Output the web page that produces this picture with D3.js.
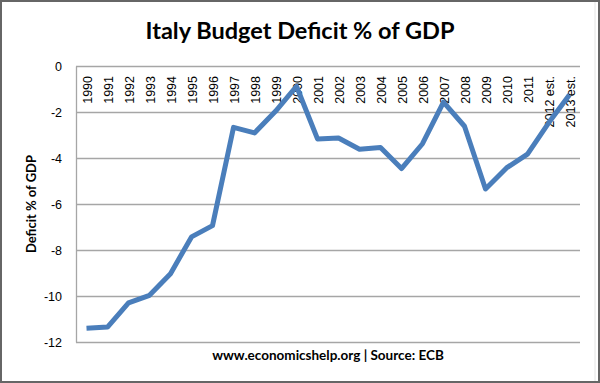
<!DOCTYPE html>
<html>
<head>
<meta charset="utf-8">
<script src="https://cdn.jsdelivr.net/npm/d3@7"></script>
<style>
  body { margin: 0; background: #fff; }
  svg { display: block; }
</style>
</head>
<body>
<div class="chart"></div>
<script>
// DATA ------------------------------
const years = ["1990", "1991", "1992", "1993", "1994", "1995", "1996", "1997", "1998", "1999",
  "2000", "2001", "2002", "2003", "2004", "2005", "2006", "2007", "2008", "2009",
  "2010", "2011", "2012 est.", "2013 est."];
const deficit = [-11.4, -11.35, -10.3, -9.97, -9.03, -7.43, -6.94, -2.67, -2.91, -1.97,
  -0.88, -3.17, -3.13, -3.62, -3.54, -4.46, -3.38, -1.57, -2.62, -5.35,
  -4.43, -3.83, -2.48, -1.25];
const yTicks = [0, -2, -4, -6, -8, -10, -12];

// CHART INIT ------------------------------
const W = 600, H = 383;
const margin = ({top: 66, right: 20, bottom: 41, left: 76});
const width = W - margin.left - margin.right;
const height = H - margin.top - margin.bottom;

const root = d3.select(".chart")
    .append("svg")
    .attr("width", W)
    .attr("height", H);

// image frame
root.append("rect")
    .attr("x", 1).attr("y", 1)
    .attr("width", W - 2).attr("height", H - 2)
    .attr("fill", "#fff")
    .attr("stroke", "#666")
    .attr("stroke-width", 2);
root.append("line")
    .attr("x1", 595).attr("x2", 595).attr("y1", 2).attr("y2", H - 2)
    .attr("stroke", "#e4e4e4");

const svg = root.append("g")
    .attr("transform", "translate(" + margin.left + "," + margin.top + ")");

let xScale = d3.scaleBand()
    .domain(years)
    .range([0, width]);
let yScale = d3.scaleLinear()
    .domain([-12, 0])
    .range([height, 0]);

// gridlines
svg.append("g")
    .attr("class", "grid")
    .call(d3.axisLeft(yScale).tickValues(yTicks).tickSize(-width).tickFormat(""))
    .call(g => g.select(".domain").remove())
    .call(g => g.selectAll("line").attr("stroke", "#a6a6a6").attr("stroke-width", 1.3));

// y axis (plain hyphen minus like the original)
svg.append("g")
    .attr("class", "axis y-axis")
    .call(d3.axisLeft(yScale).tickValues(yTicks).tickSize(0).tickPadding(14)
        .tickFormat(d => String(d)))
    .call(g => g.select(".domain").attr("stroke", "#a6a6a6").attr("stroke-width", 1.3))
    .call(g => g.selectAll("text")
        .attr("font-family", "'Liberation Sans', Arial, sans-serif")
        .attr("font-size", "12.5px")
        .attr("fill", "#000"));

// x axis labels (rotated, hanging under the 0 line)
svg.append("g")
    .attr("class", "axis x-axis")
    .call(d3.axisTop(xScale).tickSize(0))
    .call(g => g.select(".domain").remove())
    .call(g => g.selectAll("text")
        .attr("font-family", "'Liberation Sans', Arial, sans-serif")
        .attr("font-size", "12.5px")
        .attr("fill", "#000")
        .attr("text-anchor", "end")
        .attr("transform", "translate(1.5,0) rotate(-90)")
        .attr("x", -10)
        .attr("y", 0)
        .attr("dy", "0.35em")
        .attr("dx", 0));

// line
const line = d3.line()
    .x((d, i) => xScale(years[i]) + xScale.bandwidth() / 2)
    .y(d => yScale(d));

svg.append("path")
    .datum(deficit)
    .attr("fill", "none")
    .attr("stroke", "#4a7ebb")
    .attr("stroke-width", 5)
    .attr("stroke-linejoin", "round")
    .attr("d", line);

// titles
root.append("text")
    .attr("x", 300)
    .attr("y", 39)
    .attr("text-anchor", "middle")
    .attr("font-family", "Lato, 'Open Sans', sans-serif")
    .attr("font-weight", "bold")
    .attr("font-size", "23.5px")
    .text("Italy Budget Deficit % of GDP");

root.append("text")
    .attr("transform", "translate(36," + (margin.top + height / 2) + ") rotate(-90)")
    .attr("text-anchor", "middle")
    .attr("font-family", "Lato, 'Open Sans', sans-serif")
    .attr("font-weight", "bold")
    .attr("font-size", "13px")
    .text("Deficit % of GDP");

root.append("text")
    .attr("x", margin.left + width / 2)
    .attr("y", 360)
    .attr("text-anchor", "middle")
    .attr("font-family", "Lato, 'Open Sans', sans-serif")
    .attr("font-weight", "bold")
    .attr("font-size", "13.5px")
    .text("www.economicshelp.org | Source: ECB");
</script>
</body>
</html>
